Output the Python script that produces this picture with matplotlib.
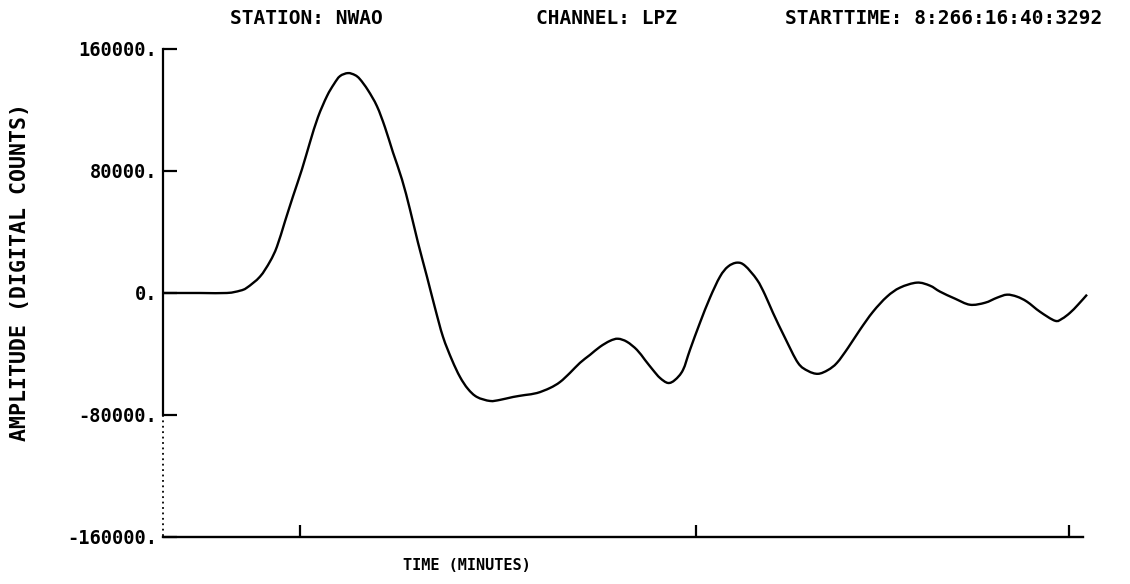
import matplotlib
matplotlib.use('Agg')
from matplotlib import pyplot as plt
from matplotlib.path import Path
from matplotlib.patches import PathPatch

# trace (time in minutes, amplitude in digital counts)
time = [0.0, 0.925, 1.6, 1.925, 2.1, 2.425, 2.675, 2.85, 3.05, 3.25, 3.475, 3.675,
        3.875, 4.1, 4.275, 4.425, 4.625, 4.8, 4.925, 5.125, 5.35, 5.55, 5.75, 5.975,
        6.175, 6.375, 6.6, 6.8, 7.0, 7.225, 7.425, 7.625, 7.85, 8.175, 8.425, 8.75,
        9.05, 9.35, 9.675, 9.925, 10.175, 10.425, 10.675, 10.925, 11.175, 11.375,
        11.6, 11.85, 12.05, 12.25, 12.425, 12.625, 12.8, 13.0, 13.175, 13.425,
        13.675, 13.925, 14.125, 14.35, 14.55, 14.85, 15.05, 15.25, 15.55, 15.875,
        16.125, 16.375, 16.625, 16.85, 17.125, 17.425, 17.75, 18.1, 18.425, 18.85,
        19.175, 19.425, 19.8, 20.175, 20.55, 20.85, 21.1, 21.35, 21.6, 21.925,
        22.3, 22.475, 22.675, 22.875, 23.1]
amp = [0, 0, 0, 1500, 3500, 10700, 20600, 30400, 46900, 63300, 81100, 98800,
       115300, 129100, 137000, 142200, 144200, 142900, 140200, 133000, 122500,
       108700, 92200, 74500, 54800, 33100, 10700, -9700, -28700, -43900, -55000,
       -62900, -68200, -70800, -70100, -68200, -66900, -65600, -62300, -58400,
       -52400, -45800, -40600, -35300, -31400, -30000, -32000, -37300, -43900,
       -50500, -55700, -59000, -57000, -50500, -37300, -19500, -3100, 10700,
       17300, 19900, 17900, 8700, -1100, -13000, -29400, -45800, -51100, -53000,
       -50500, -45800, -36000, -24100, -12300, -2400, 3500, 6800, 4800, 900,
       -3700, -7700, -6400, -3100, -1100, -2400, -5700, -12300, -18200, -16900,
       -13000, -7700, -1100]

yticks = [160000, 80000, 0, -80000, -160000]
ytick_labels = ['160000.', '80000.', '0.', '-80000.', '-160000.']
xticks = [3.425, 13.325, 22.65]

mono = dict(family='DejaVu Sans Mono', weight='bold')


def smooth_path(xs, ys):
    # catmull-rom through the points, written as cubic bezier segments
    pts = list(zip(xs, ys))
    n = len(pts)
    verts = [pts[0]]
    codes = [Path.MOVETO]
    for i in range(n - 1):
        p0 = pts[max(i - 1, 0)]
        p1 = pts[i]
        p2 = pts[i + 1]
        p3 = pts[min(i + 2, n - 1)]
        c1 = (p1[0] + (p2[0] - p0[0]) / 6, p1[1] + (p2[1] - p0[1]) / 6)
        c2 = (p2[0] - (p3[0] - p1[0]) / 6, p2[1] - (p3[1] - p1[1]) / 6)
        verts += [c1, c2, p2]
        codes += [Path.CURVE4] * 3
    return Path(verts, codes)


fig = plt.figure(figsize=(11.3, 5.84), dpi=100)
ax = fig.add_axes([0.1442, 0.0805, 0.8142, 0.8356])

ax.add_patch(PathPatch(smooth_path(time, amp), fill=False, edgecolor='black',
                       linewidth=1.7, clip_on=False))

ax.set_xlim(0, 23.0)
ax.set_ylim(-160000, 160000)

for s in ['top', 'right', 'left']:
    ax.spines[s].set_visible(False)
ax.spines['bottom'].set_linewidth(1.7)

# left axis: solid on top, dotted near the bottom like the scan
ax.plot([0, 0], [160000, -80000], color='black', linewidth=1.6, clip_on=False)
ax.plot([0, 0], [-80000, -160000], color='black', linewidth=1.3,
        linestyle=(0, (1, 2)), clip_on=False)

ax.set_yticks(yticks)
ax.set_yticklabels(ytick_labels, size=13.5, **mono)
ax.set_xticks(xticks)
ax.set_xticklabels([])
ax.tick_params(axis='y', direction='in', length=10, width=1.6, pad=4)
ax.tick_params(axis='x', direction='in', length=9, width=1.6)

ax.set_xlabel('TIME (MINUTES)', size=11, **mono)
ax.xaxis.set_label_coords(0.330, -0.044)
ax.set_ylabel('AMPLITUDE (DIGITAL COUNTS)', size=15.5, **mono)
ax.yaxis.set_label_coords(-0.1446, 0.543)

fig.text(306 / 1130, 1 - 18 / 584, 'STATION: NWAO', ha='center', va='center', size=14, **mono)
fig.text(607 / 1130, 1 - 18 / 584, 'CHANNEL: LPZ', ha='center', va='center', size=14, **mono)
fig.text(944 / 1130, 1 - 18 / 584, 'STARTTIME: 8:266:16:40:3292', ha='center', va='center',
         size=14, **mono)

fig.savefig('out.png', dpi=100)
